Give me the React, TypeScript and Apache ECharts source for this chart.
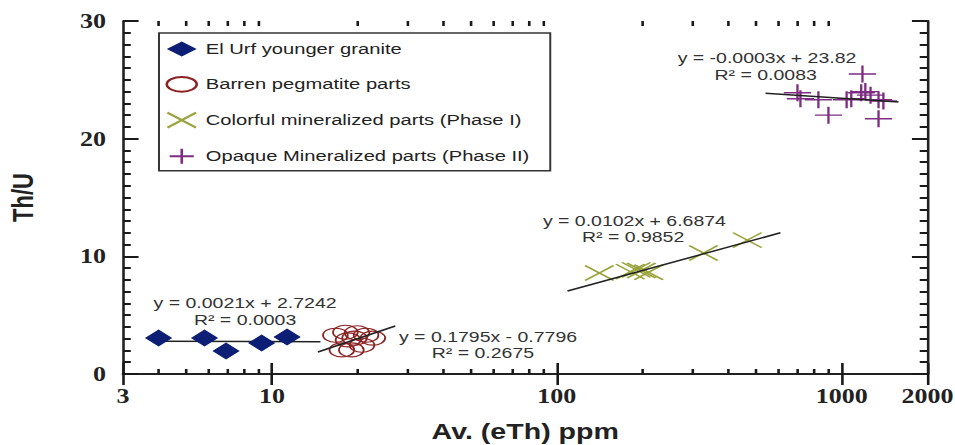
import React, { useEffect, useRef } from "react";
import * as echarts from "echarts";

// The figure is laid out on a narrower canvas and widened with a CSS scaleX,
// which gives the broad glyphs and flattened markers of the printed plot.
const STRETCH = 1.3;
const PAGE_W = 955;
const PAGE_H = 445;
const CANVAS_W = PAGE_W / STRETCH;

const SERIES_NAMES = [
  "El Urf younger granite",
  "Barren pegmatite parts",
  "Colorful mineralized parts (Phase I)",
  "Opaque Mineralized parts (Phase II)",
];

// Av. (eTh) ppm  vs  Th/U
const GRANITE_X = [4.0, 5.8, 6.9, 9.2, 11.3];
const GRANITE_Y = [3.06, 3.06, 1.95, 2.63, 3.14];
const BARREN_X = [16.7, 18.1, 19.9, 21.4, 22.6, 17.6, 19.0, 20.7, 18.5, 19.5];
const BARREN_Y = [3.3, 3.55, 3.5, 3.3, 3.05, 2.05, 2.05, 2.45, 2.9, 3.05];
const PHASE1_X = [141, 181, 190, 198, 210, 327, 466];
const PHASE1_Y = [8.58, 8.7, 8.85, 8.8, 8.65, 10.28, 11.38];
const PHASE2_X = [699, 716, 828, 898, 1040, 1080, 1182, 1170, 1210, 1262, 1346, 1400, 1346];
const PHASE2_Y = [23.9, 23.4, 23.3, 22.0, 23.3, 23.4, 25.5, 23.9, 24.0, 23.7, 23.3, 23.2, 21.7];

// Trend line end points for each group
const GRANITE_FIT_X = [4.0, 14.8];
const GRANITE_FIT_Y = [2.78, 2.75];
const BARREN_FIT_X = [14.5, 27.1];
const BARREN_FIT_Y = [1.87, 4.08];
const PHASE1_FIT_X = [109, 609];
const PHASE1_FIT_Y = [7.05, 12.0];
const PHASE2_FIT_X = [540, 1582];
const PHASE2_FIT_Y = [23.87, 23.11];

const EQUATIONS = [
  ["y = 0.0021x + 2.7242", "R² = 0.0003"],
  ["y = 0.1795x - 0.7796", "R² = 0.2675"],
  ["y = 0.0102x + 6.6874", "R² = 0.9852"],
  ["y = -0.0003x + 23.82", "R² = 0.0083"],
];

const X_MIN = 3;
const X_MAX = 2000;
const Y_MIN = 0;
const Y_MAX = 30;
const Y_STEP = 10;
const X_MINOR_TICKS = [
  4, 5, 6, 7, 8, 9, 20, 30, 40, 50, 60, 70, 80, 90, 200, 300, 400, 500, 600, 700, 800, 900,
];

// Equation label anchors (canvas pixels, before the horizontal stretch)
const EQUATION_ANCHORS = [
  [[188.5, 303], [188.5, 320]],
  [[375.4, 337], [371.5, 353]],
  [[488, 221], [487, 237]],
  [[590, 58], [589, 75]],
];

const SANS = '"Liberation Sans", Arial, Helvetica, sans-serif';
const SERIF = '"Liberation Serif", "Times New Roman", serif';
const INK = "#222";
const TICK_INK = "#1a1a1a";
const TICK_W = 2;

const ELLIPSE = "path://M0,7A11,7 0 1,1 22,7A11,7 0 1,1 0,7Z";
const CROSS_X = "path://M0,0L22,15M22,0L0,15";
const PLUS = "path://M0,8.5L21,8.5M10.5,0L10.5,17";

const pairs = (xs: number[], ys: number[]) => xs.map((x, i) => [x, ys[i]]);

function buildOption() {
  const trend = (name: string, xs: number[], ys: number[]) => ({
    name,
    type: "line",
    data: pairs(xs, ys),
    symbol: "none",
    lineStyle: { color: INK, width: 1.5 },
    z: 3,
  });

  const graphics: any[] = [];
  EQUATIONS.forEach((lines, i) => {
    lines.forEach((text, j) => {
      const [x, y] = EQUATION_ANCHORS[i][j];
      graphics.push({
        type: "text",
        x,
        y,
        style: {
          text,
          fill: "#333",
          font: `15px ${SANS}`,
          align: "center",
          verticalAlign: "middle",
        },
      });
    });
  });

  const axisLine = { show: true, lineStyle: { color: INK, width: 2 } };
  const xTick = { show: true, inside: true, length: 11, lineStyle: { color: TICK_INK, width: TICK_W } };
  const yTick = { show: true, inside: true, length: 12, lineStyle: { color: TICK_INK, width: TICK_W } };
  const yMinor = { show: true, splitNumber: 10, length: 6, lineStyle: { color: TICK_INK, width: TICK_W } };

  return {
    animation: false,
    backgroundColor: "#fff",
    grid: {
      left: 94.6,
      right: CANVAS_W - 713.1,
      top: 21,
      bottom: 71,
      containLabel: false,
      outerBoundsMode: "none",
    },
    legend: {
      data: SERIES_NAMES,
      orient: "vertical",
      left: 122.3,
      top: 33,
      padding: [8, 16, 6, 5],
      itemWidth: 23,
      itemHeight: 15,
      itemGap: 19,
      borderColor: "#333",
      borderWidth: 1.5,
      selectedMode: false,
      textStyle: { fontFamily: SANS, fontSize: 15.5, color: INK, padding: [0, 0, 0, 2] },
    },
    xAxis: [
      {
        type: "log",
        logBase: 10,
        min: X_MIN,
        max: X_MAX,
        position: "bottom",
        axisLine,
        axisTick: xTick,
        splitLine: { show: false },
        axisLabel: {
          fontFamily: SERIF,
          fontWeight: "bold",
          fontSize: 20,
          color: INK,
          margin: 12,
          formatter: (v: number) => String(Math.round(v)),
        },
        name: "Av. (eTh) ppm",
        nameLocation: "middle",
        nameGap: 46,
        nameTextStyle: { fontFamily: SANS, fontWeight: "bold", fontSize: 22, color: INK },
      },
      {
        type: "log",
        logBase: 10,
        min: X_MIN,
        max: X_MAX,
        position: "top",
        axisLine,
        axisTick: xTick,
        splitLine: { show: false },
        axisLabel: { show: false },
      },
    ],
    yAxis: [
      {
        type: "value",
        min: Y_MIN,
        max: Y_MAX,
        interval: Y_STEP,
        position: "left",
        axisLine,
        axisTick: yTick,
        minorTick: yMinor,
        splitLine: { show: false },
        axisLabel: { fontFamily: SERIF, fontWeight: "bold", fontSize: 20, color: INK, margin: 13 },
        name: "Th/U",
        nameLocation: "middle",
        nameGap: 66,
        nameTextStyle: { fontFamily: SANS, fontWeight: "bold", fontSize: 22, color: INK },
      },
      {
        type: "value",
        min: Y_MIN,
        max: Y_MAX,
        interval: Y_STEP,
        position: "right",
        axisLine,
        axisTick: yTick,
        minorTick: yMinor,
        splitLine: { show: false },
        axisLabel: { show: false },
      },
    ],
    graphic: graphics,
    series: [
      {
        name: "Log minor ticks",
        type: "custom",
        coordinateSystem: "cartesian2d",
        data: X_MINOR_TICKS.map((v) => [v, Y_MIN]),
        renderItem: (_params: any, api: any) => {
          const v = api.value(0);
          const b = api.coord([v, Y_MIN]);
          const t = api.coord([v, Y_MAX]);
          return {
            type: "group",
            children: [
              {
                type: "line",
                shape: { x1: b[0], y1: b[1], x2: b[0], y2: b[1] - 5 },
                style: { stroke: TICK_INK, lineWidth: TICK_W },
              },
              {
                type: "line",
                shape: { x1: t[0], y1: t[1], x2: t[0], y2: t[1] + 5 },
                style: { stroke: TICK_INK, lineWidth: TICK_W },
              },
            ],
          };
        },
      },
      trend("Granite trend", GRANITE_FIT_X, GRANITE_FIT_Y),
      trend("Barren trend", BARREN_FIT_X, BARREN_FIT_Y),
      trend("Phase I trend", PHASE1_FIT_X, PHASE1_FIT_Y),
      trend("Phase II trend", PHASE2_FIT_X, PHASE2_FIT_Y),
      {
        name: SERIES_NAMES[0],
        type: "scatter",
        data: pairs(GRANITE_X, GRANITE_Y),
        symbol: "diamond",
        symbolSize: [21, 17],
        itemStyle: { color: "#0c1f74", opacity: 1 },
        z: 4,
      },
      {
        name: SERIES_NAMES[1],
        type: "scatter",
        data: pairs(BARREN_X, BARREN_Y),
        symbol: ELLIPSE,
        symbolSize: [19, 14],
        itemStyle: { color: "rgba(0,0,0,0)", borderColor: "#8a2222", borderWidth: 1.2, opacity: 1 },
        z: 2,
      },
      {
        name: SERIES_NAMES[2],
        type: "scatter",
        data: pairs(PHASE1_X, PHASE1_Y),
        symbol: CROSS_X,
        symbolSize: [22, 15],
        itemStyle: { color: "rgba(0,0,0,0)", borderColor: "#9aa43c", borderWidth: 1.6, opacity: 1 },
        z: 2,
      },
      {
        name: SERIES_NAMES[3],
        type: "scatter",
        data: pairs(PHASE2_X, PHASE2_Y),
        symbol: PLUS,
        symbolSize: [21, 17],
        itemStyle: { color: "rgba(0,0,0,0)", borderColor: "#7e2d82", borderWidth: 1.6, opacity: 1 },
        z: 2,
      },
    ],
  };
}

export default function App() {
  const ref = useRef<HTMLDivElement>(null);

  useEffect(() => {
    if (!ref.current) return;
    const chart = echarts.init(ref.current, undefined, { renderer: "svg" });
    chart.setOption(buildOption() as any);
    return () => chart.dispose();
  }, []);

  return (
    <div
      style={{
        position: "fixed",
        left: 0,
        top: 0,
        width: PAGE_W,
        height: PAGE_H,
        overflow: "hidden",
        background: "#fff",
      }}
    >
      <div
        ref={ref}
        style={{
          width: CANVAS_W,
          height: PAGE_H,
          transform: `scaleX(${STRETCH})`,
          transformOrigin: "0 0",
        }}
      />
    </div>
  );
}
